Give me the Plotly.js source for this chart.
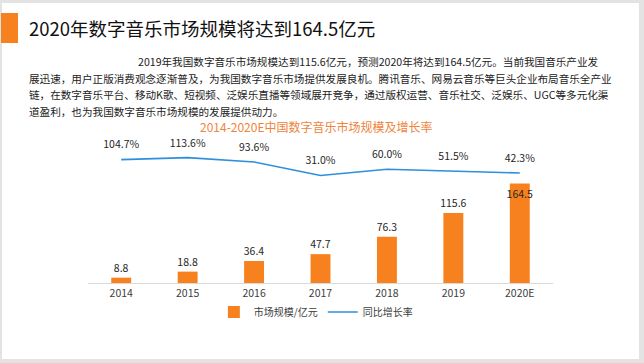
<!DOCTYPE html>
<html>
<head>
<meta charset="utf-8">
<script src="https://cdn.plot.ly/plotly-3.0.1.min.js"></script>
<style>
html,body{margin:0;padding:0;background:#ffffff;}
#chart{width:644px;height:363px;}
</style>
</head>
<body>
<div id="chart"></div>
<script>
// ---- data ----
const years = ['2014', '2015', '2016', '2017', '2018', '2019', '2020E'];
const marketSize = [8.8, 18.8, 36.4, 47.7, 76.3, 115.6, 164.5];
const growthRate = [104.7, 113.6, 93.6, 31.0, 60.0, 51.5, 42.3];
const seriesNames = ['市场规模/亿元', '同比增长率'];
const headline = '2020年数字音乐市场规模将达到164.5亿元';
const paragraphLines = [
  '2019年我国数字音乐市场规模达到115.6亿元，预测2020年将达到164.5亿元。当前我国音乐产业发',
  '展迅速，用户正版消费观念逐渐普及，为我国数字音乐市场提供发展良机。腾讯音乐、网易云音乐等巨头企业布局音乐全产业',
  '链，在数字音乐平台、移动K歌、短视频、泛娱乐直播等领域展开竞争，通过版权运营、音乐社交、泛娱乐、UGC等多元化渠',
  '道盈利，也为我国数字音乐市场规模的发展提供动力。'
];
const chartTitle = '2014-2020E中国数字音乐市场规模及增长率';

// ---- geometry helpers (pixel -> paper) ----
const W = 644, H = 363, L = 88, R = 553, T = 140, B = 283;
const px = x => (x - L) / (R - L);
const py = y => (B - y) / (B - T);

const FONT = '"Noto Sans CJK SC", "Noto Sans", sans-serif';
const ORANGE = '#F7811E';
const BLUE = '#2E8FDE';

const barTrace = {
  type: 'bar',
  name: seriesNames[0],
  x: years,
  y: marketSize,
  marker: {color: ORANGE},
  text: marketSize.map(v => v.toFixed(1)),
  textposition: marketSize.map((v, i) => i === marketSize.length - 1 ? 'inside' : 'outside'),
  insidetextanchor: 'end',
  constraintext: 'none',
  textangle: 0,
  textfont: {family: FONT, size: 10.5, color: '#262626'},
  outsidetextfont: {family: FONT, size: 10.5, color: '#262626'},
  insidetextfont: {family: FONT, size: 10.5, color: '#262626'},
  cliponaxis: false,
  hoverinfo: 'skip'
};

const lineTrace = {
  type: 'scatter',
  mode: 'lines',
  name: seriesNames[1],
  x: years,
  y: growthRate,
  yaxis: 'y2',
  line: {color: BLUE, width: 1.6},
  cliponaxis: false,
  hoverinfo: 'skip'
};

// labels for the growth line (no legend entry; transparent markers only push the text up)
const lineLabels = {
  type: 'scatter',
  mode: 'markers+text',
  showlegend: false,
  x: years,
  y: growthRate,
  yaxis: 'y2',
  marker: {size: 12, color: BLUE, opacity: 0},
  text: growthRate.map(v => v.toFixed(1) + '%'),
  textposition: 'top center',
  textfont: {family: FONT, size: 10.5, color: '#262626'},
  cliponaxis: false,
  hoverinfo: 'skip'
};

const annotations = [
  {text: headline, x: px(27), y: py(27.5), xanchor: 'left', yanchor: 'middle',
   font: {family: FONT, size: 18.5, color: '#111111'}},
  {text: chartTitle, x: px(316), y: py(126), xanchor: 'center', yanchor: 'middle',
   font: {family: FONT, size: 12, color: '#F0843C'}}
];
const lineY = [61.5, 78, 94.5, 111];
paragraphLines.forEach((t, i) => {
  annotations.push({text: t, x: px(i === 0 ? 136 : 27), y: py(lineY[i]), xanchor: 'left', yanchor: 'middle',
    font: {family: FONT, size: 10.6, color: '#222222'}});
});
annotations.forEach(a => { a.xref = 'paper'; a.yref = 'paper'; a.showarrow = false; });

const rect = (x0, y0, x1, y1, color) => ({
  type: 'rect', xref: 'paper', yref: 'paper',
  x0: px(x0), x1: px(x1), y0: py(y1), y1: py(y0),
  fillcolor: color, line: {width: 0}, layer: 'above'
});
const shapes = [
  rect(0, 0, 644, 3, '#e3e3e3'),
  rect(0, 359, 644, 363, '#e3e3e3'),
  rect(0, 0, 2, 363, '#e3e3e3'),
  rect(639, 0, 644, 363, '#e3e3e3'),
  rect(1, 13, 18, 43, ORANGE)
];

const layout = {
  width: W, height: H,
  margin: {l: L, r: W - R, t: T, b: H - B, pad: 0},
  paper_bgcolor: '#ffffff',
  plot_bgcolor: '#ffffff',
  font: {family: FONT, color: '#404040'},
  bargap: 0.7,
  showlegend: true,
  xaxis: {
    type: 'category',
    showline: true, linecolor: '#d9d9d9', linewidth: 1,
    showgrid: false, zeroline: false, ticks: '',
    tickfont: {family: FONT, size: 10.5, color: '#404040'},
    fixedrange: true
  },
  yaxis: {range: [0, 236.4], visible: false, fixedrange: true},
  yaxis2: {range: [-469.3, 195.8], overlaying: 'y', visible: false, fixedrange: true},
  legend: {
    orientation: 'h', x: 0.49, xanchor: 'center', y: py(312), yanchor: 'middle',
    font: {family: FONT, size: 10, color: '#404040'},
    itemwidth: 30, tracegroupgap: 0, bgcolor: 'rgba(0,0,0,0)'
  },
  annotations: annotations,
  shapes: shapes
};

Plotly.newPlot('chart', [barTrace, lineTrace, lineLabels], layout, {displayModeBar: false, staticPlot: true});
</script>
</body>
</html>
